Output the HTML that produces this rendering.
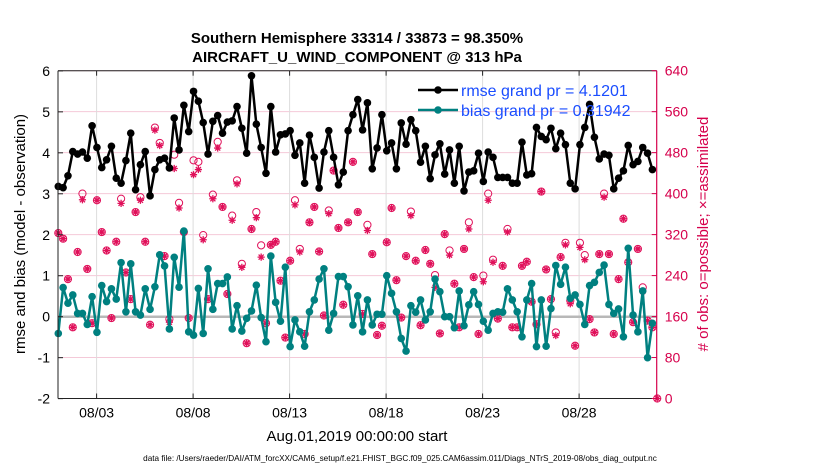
<!DOCTYPE html>
<html><head><meta charset="utf-8"><style>
body{margin:0;background:#fff;}
svg{display:block;font-family:"Liberation Sans",sans-serif;}
</style></head><body>
<svg id="chart" width="830" height="470" viewBox="0 0 830 470" xmlns="http://www.w3.org/2000/svg">
<rect width="830" height="470" fill="#fff"/>
<g id="grid"></g>
<g id="series"></g>
<g id="axes"></g>
<text x="357" y="43" text-anchor="middle" font-size="15" font-weight="bold">Southern Hemisphere 33314 / 33873 = 98.350%</text>
<text x="357" y="62" text-anchor="middle" font-size="15" font-weight="bold">AIRCRAFT_U_WIND_COMPONENT @ 313 hPa</text>
<text transform="translate(25,234) rotate(-90)" text-anchor="middle" font-size="15">rmse and bias (model - observation)</text>
<text transform="translate(708,234) rotate(-90)" text-anchor="middle" font-size="15" fill="#d6004c"># of obs: o=possible; ×=assimilated</text>
<text x="357" y="441" text-anchor="middle" font-size="15">Aug.01,2019 00:00:00 start</text>
<text x="400" y="461" text-anchor="middle" font-size="8.2">data file: /Users/raeder/DAI/ATM_forcXX/CAM6_setup/f.e21.FHIST_BGC.f09_025.CAM6assim.011/Diags_NTrS_2019-08/obs_diag_output.nc</text>
<g>
<line x1="418" y1="90" x2="458" y2="90" stroke="#000" stroke-width="2.5"/>
<circle cx="438" cy="90" r="3.8" fill="#000"/>
<text x="461" y="96" font-size="16" fill="#1a4dff">rmse grand pr = 4.1201</text>
<line x1="418" y1="110" x2="458" y2="110" stroke="#008080" stroke-width="2.5"/>
<circle cx="438" cy="110" r="3.8" fill="#008080"/>
<text x="461" y="116" font-size="16" fill="#1a4dff">bias grand pr = 0.31942</text>
</g>
</svg>
<script>
const xTickLabels=["08/03","08/08","08/13","08/18","08/23","08/28"];
const xTickDays=[2,7,12,17,22,27];
const leftTicks=[-2,-1,0,1,2,3,4,5,6];
const rightTicks=[0,80,160,240,320,400,480,560,640];
const rmse=[3.18,3.15,3.44,4.03,3.97,4.02,3.87,4.66,4.13,3.64,3.83,4.16,3.38,3.26,3.81,4.48,3.10,3.71,4.03,2.95,3.59,3.83,3.87,3.63,4.85,4.07,5.16,4.52,5.50,5.26,4.74,3.97,
4.77,4.91,4.48,4.75,4.78,5.13,4.60,3.99,5.88,4.70,4.13,3.50,5.13,4.02,4.44,4.46,4.54,3.94,4.24,3.26,4.43,3.89,3.14,4.02,4.54,3.89,3.22,3.53,4.54,4.93,5.30,
4.56,5.22,3.61,4.12,4.93,4.05,4.24,3.61,4.73,4.21,4.81,4.54,3.77,4.16,3.37,3.95,4.22,3.48,4.07,3.26,4.16,3.07,3.53,3.56,3.99,3.30,4.02,3.89,3.40,3.40,3.40,
3.26,3.26,4.26,3.46,3.49,4.62,4.40,4.32,4.60,4.10,4.48,4.20,3.26,3.12,4.20,4.62,5.18,4.38,3.85,3.97,3.94,3.12,3.38,3.56,4.18,3.71,3.79,4.13,3.99,3.59];
const bias=[-0.41,0.71,0.33,0.53,0.08,0.08,-0.19,0.49,-0.38,0.76,0.37,0.68,0.43,1.32,0.12,1.29,0.12,0.04,0.68,0.18,0.73,1.51,1.24,-0.30,1.45,0.72,2.09,-0.37,-0.45,0.69,-0.41,1.17,
0.18,0.81,0.81,0.97,-0.30,0.27,-0.35,-0.04,0.14,0.77,-0.02,-0.61,1.48,0.35,-0.11,1.21,-0.73,-0.08,-0.37,-0.72,0.12,0.41,0.92,1.17,-0.33,0.08,0.98,0.98,0.73,-0.20,0.51,
-0.37,0.41,-0.20,0.06,0.06,1.00,0.57,0.12,-0.53,-0.84,0.27,0.11,0.41,-0.08,0.12,0.92,0.61,0.0,0.0,-0.27,0.63,-0.22,0.29,0.61,0.30,-0.11,-0.33,0.08,0.12,0.11,0.68,
0.41,0.12,-0.49,0.41,0.81,-0.73,0.41,-0.72,0.20,1.25,0.79,1.21,0.45,0.53,0.30,-0.19,0.76,0.84,1.08,1.26,0.30,0.08,0.19,-0.49,1.67,0.04,-0.37,0.63,-1.0,-0.16];
const possible=[323,312,233,139,286,400,253,147,387,325,289,157,306,390,246,194,364,393,306,144,529,499,278,155,476,382,325,157,465,462,319,194,
398,501,374,204,357,426,263,108,331,364,299,147,300,306,230,119,269,387,292,126,344,374,287,162,367,445,333,183,344,462,364,
165,339,282,124,142,305,372,231,158,278,365,269,143,290,263,241,127,321,289,224,139,292,344,237,126,240,400,271,156,259,331,
139,139,259,267,189,145,404,252,194,129,276,304,191,103,304,280,155,129,282,400,282,126,233,351,266,149,292,217,152,139,0];
const assimilated=[323,312,233,139,286,388,253,147,387,325,289,157,306,381,246,194,364,387,306,144,524,494,278,149,449,372,325,157,437,447,310,194,
390,489,374,204,348,419,256,108,331,353,276,147,300,306,230,119,269,378,286,126,344,374,287,162,361,445,333,183,344,462,364,
165,328,282,124,142,305,372,231,158,278,357,269,143,290,263,217,127,321,280,224,139,292,331,237,126,228,387,266,156,259,325,
139,139,259,267,189,145,404,252,194,123,276,300,185,103,295,271,155,129,282,393,282,126,233,351,266,149,292,209,152,139,0];

const NS="http://www.w3.org/2000/svg";
const X0=58,XL=656.7,YT=70.7,YB=398.5;
const xOf=i=>X0+0.3+4.83*i;
const xDay=d=>X0+19.3*d;
const yL=v=>316.7-40.97*(v);
const yR=c=>YB-c*(YB-YT)/640;
function mk(tag,attrs,parent){const e=document.createElementNS(NS,tag);for(const k in attrs)e.setAttribute(k,attrs[k]);parent.appendChild(e);return e;}
const grid=document.getElementById('grid'),ser=document.getElementById('series'),ax=document.getElementById('axes');
rightTicks.forEach(c=>{const l=mk('line',{x1:X0,x2:XL,y1:yR(c),y2:yR(c),stroke:'#f4c9d8','stroke-width':1},grid);

});
xTickDays.forEach(d=>{const l=mk('line',{x1:xDay(d),x2:xDay(d),y1:YT,y2:YB,stroke:'#dcdcdc','stroke-width':1},grid);

});
const zl=mk('line',{x1:X0,x2:XL,y1:yL(0),y2:yL(0),stroke:'#b8b8b8','stroke-width':2.5},grid);


possible.forEach((c,i)=>{const e=mk('circle',{cx:xOf(i),cy:yR(c),r:3.6,fill:'none',stroke:'#e0105a','stroke-width':1},ser);

});
assimilated.forEach((c,i)=>{const x=xOf(i),y=yR(c),r=3.6;let d='';
for(let k=0;k<4;k++){const a=k*Math.PI/4;d+=`M${x-r*Math.cos(a)},${y-r*Math.sin(a)}L${x+r*Math.cos(a)},${y+r*Math.sin(a)}`;}
const e=mk('path',{d:d,stroke:'#e0105a','stroke-width':1.3,fill:'none'},ser);

});
function series(vals,color,name){
const pts=vals.map((v,i)=>xOf(i)+','+yL(v)).join(' ');
const pl=mk('polyline',{points:pts,fill:'none',stroke:color,'stroke-width':2.5,'stroke-linejoin':'round'},ser);


vals.forEach((v,i)=>{const c=mk('circle',{cx:xOf(i),cy:yL(v),r:3.8,fill:color},ser);

});}
series(bias,'#008080','bias');
series(rmse,'#000000','rmse');
mk('line',{x1:X0,x2:XL,y1:YT,y2:YT,stroke:'#222','stroke-width':1},ax);
mk('line',{x1:X0,x2:XL,y1:YB,y2:YB,stroke:'#222','stroke-width':1},ax);
mk('line',{x1:X0,x2:X0,y1:YT,y2:YB,stroke:'#222','stroke-width':1},ax);
mk('line',{x1:XL,x2:XL,y1:YT,y2:YB,stroke:'#d6004c','stroke-width':1.2},ax);
leftTicks.forEach(v=>{mk('line',{x1:X0,x2:X0+5,y1:yL(v),y2:yL(v),stroke:'#222'},ax);
const t=mk('text',{x:X0-8,y:yL(v)+5,'text-anchor':'end','font-size':14},ax);t.textContent=v;

});
rightTicks.forEach(c=>{mk('line',{x1:XL-5,x2:XL,y1:yR(c),y2:yR(c),stroke:'#d6004c'},ax);
const t=mk('text',{x:XL+8,y:yR(c)+5,'font-size':14,fill:'#d6004c'},ax);t.textContent=c;

});
xTickDays.forEach((d,k)=>{mk('line',{x1:xDay(d),x2:xDay(d),y1:YB,y2:YB-5,stroke:'#222'},ax);
mk('line',{x1:xDay(d),x2:xDay(d),y1:YT,y2:YT+5,stroke:'#222'},ax);
const t=mk('text',{x:xDay(d),y:YB+19,'text-anchor':'middle','font-size':14},ax);t.textContent=xTickLabels[k];

});
</script>
</body></html>
